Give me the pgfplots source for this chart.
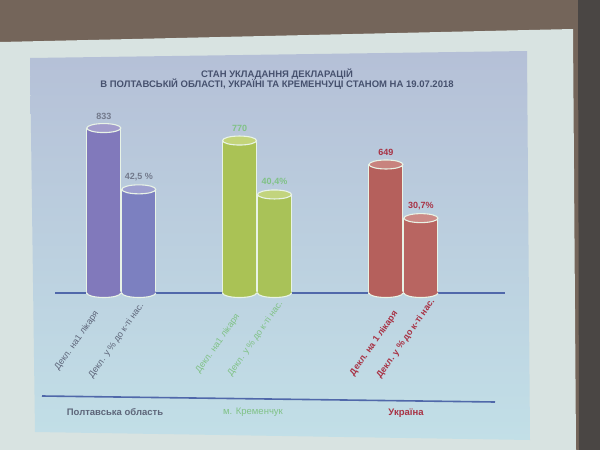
\documentclass[border=0pt]{standalone}
\usepackage{pgfplots}
\pgfplotsset{compat=1.18}
\usepackage{fontspec}
\setmainfont{Liberation Sans}
\definecolor{purp1}{HTML}{8179BB}\definecolor{purp1top}{HTML}{A29CCC}
\definecolor{purp2}{HTML}{7C80C0}\definecolor{purp2top}{HTML}{9EA0D0}
\definecolor{green1}{HTML}{AAC255}\definecolor{green1top}{HTML}{C3D47A}
\definecolor{green2}{HTML}{A9C258}\definecolor{green2top}{HTML}{C2D47D}
\definecolor{red1}{HTML}{B5605C}\definecolor{red1top}{HTML}{C8837E}
\definecolor{red2}{HTML}{B86561}\definecolor{red2top}{HTML}{CC8A86}
\definecolor{rim}{HTML}{E8F3E6}
\definecolor{titlecol}{HTML}{46516E}
\definecolor{poltcol}{HTML}{5E667A}
\definecolor{polvcol}{HTML}{737A8C}
\definecolor{kremcol}{HTML}{80C286}
\definecolor{ukrcol}{HTML}{A83244}
\definecolor{lineblue}{HTML}{5068AA}
\definecolor{panelA}{HTML}{B5C0D7}
\definecolor{panelB}{HTML}{C6DCE5}
\definecolor{panelC}{HTML}{C2DFE7}
\definecolor{screen}{HTML}{D8E3E1}
\definecolor{brown}{HTML}{74655A}
\definecolor{darkedge}{HTML}{4A4644}
\pgfdeclareplotmark{cyltop}{%
  \pgfpathellipse{\pgfpointorigin}{\pgfqpoint{17pt}{0pt}}{\pgfqpoint{0pt}{4.5pt}}%
  \pgfusepathqfillstroke}
\pgfdeclareplotmark{cylbot}{%
  \pgfpathmoveto{\pgfqpoint{-17pt}{1.5pt}}%
  \pgfpathlineto{\pgfqpoint{-17pt}{0pt}}%
  \pgfpatharc{180}{360}{17pt and 4.5pt}%
  \pgfpathlineto{\pgfqpoint{17pt}{1.5pt}}%
  \pgfpathclose
  \pgfusepathqfill
  \pgfpathmoveto{\pgfqpoint{-17pt}{0pt}}%
  \pgfpatharc{180}{360}{17pt and 4.5pt}%
  \pgfusepathqstroke}
% #1 x, #2 value, #3 label, #4 bar colour, #5 top colour, #6 label colour
\newcommand{\cyl}[6]{%
  \addplot[ybar, bar width=34pt, bar shift=0pt, fill=#4, draw=rim, line width=1.1pt] coordinates {(#1,#2)};
  \addplot[only marks, mark=cylbot, mark options={fill=#4, draw=rim, line width=1.1pt}] coordinates {(#1,0)};
  \addplot[only marks, mark=cyltop, mark options={fill=#5, draw=rim, line width=1.1pt},
    nodes near coords, point meta=explicit symbolic,
    every node near coord/.append style={text=#6, font=\bfseries\fontsize{9}{10}\selectfont, anchor=south, inner sep=0pt, yshift=8pt}]
    coordinates {(#1,#2) [#3]};
}
\begin{document}
\begin{tikzpicture}[x=1pt,y=-1pt]
\useasboundingbox (0,0) rectangle (600,450);
\fill[brown] (0,0) rectangle (600,450);
\fill[screen] (0,42) -- (573,29) -- (576,450) -- (0,450) -- cycle;
\fill[darkedge] (578,0) -- (600,0) -- (600,450) -- (579,450) -- cycle;
\shade[top color=panelA, middle color=panelB, bottom color=panelC] (30,58) -- (527,51) -- (530,440) -- (35,432) -- cycle;
\node[font=\bfseries\fontsize{9.5}{10.5}\selectfont, text=titlecol, align=center] at (277,79)
  {СТАН УКЛАДАННЯ ДЕКЛАРАЦІЙ\\В ПОЛТАВСЬКІЙ ОБЛАСТІ, УКРАЇНІ ТА КРЕМЕНЧУЦІ СТАНОМ НА 19.07.2018};
% counts
\begin{axis}[at={(55pt,-293pt)}, anchor=south west, scale only axis, width=450pt, height=200pt,
  xmin=-0.47, xmax=2.72, ymin=0, ymax=1010, hide axis, clip=false]
  \draw[lineblue, line width=2pt] (axis cs:-0.47,0) -- (axis cs:2.72,0);
  \cyl{-0.124}{833}{833}{purp1}{purp1top}{polvcol}
  \cyl{0.838}{770}{770}{green1}{green1top}{kremcol}
  \cyl{1.876}{649}{649}{red1}{red1top}{ukrcol}
\end{axis}
% percentages
\begin{axis}[at={(55pt,-293pt)}, anchor=south west, scale only axis, width=450pt, height=200pt,
  xmin=-0.47, xmax=2.72, ymin=0, ymax=82, hide axis, clip=false]
  \cyl{0.124}{42.5}{42,5 \%}{purp2}{purp2top}{polvcol}
  \cyl{1.086}{40.4}{40,4\%}{green2}{green2top}{kremcol}
  \cyl{2.124}{30.7}{30,7\%}{red2}{red2top}{ukrcol}
\end{axis}
\begin{scope}[every node/.style={rotate=55, anchor=east, inner sep=0pt, font=\fontsize{9}{10}\selectfont}]
\node[text=poltcol] at (97,312) {Декл. на1 лікаря};
\node[text=poltcol] at (142,304) {Декл. у \% до к-ті нас.};
\node[text=kremcol] at (238,315) {Декл. на1 лікаря};
\node[text=kremcol] at (281,302) {Декл. у \% до к-ті нас.};
\node[text=ukrcol, font=\bfseries\fontsize{9}{10}\selectfont] at (396,312) {Декл. на 1 лікаря};
\node[text=ukrcol, font=\bfseries\fontsize{9}{10}\selectfont] at (433,300) {Декл. у \% до к-ті нас.};
\end{scope}
\draw[lineblue, line width=1.6pt] (42,396) -- (495,402);
\node[text=poltcol, font=\bfseries\fontsize{9.5}{10}\selectfont] at (115,412) {Полтавська область};
\node[text=kremcol, font=\fontsize{9.5}{10}\selectfont] at (253,412) {м. Кременчук};
\node[text=ukrcol, font=\bfseries\fontsize{9.5}{10}\selectfont] at (406,413) {Україна};
\end{tikzpicture}
\end{document}
